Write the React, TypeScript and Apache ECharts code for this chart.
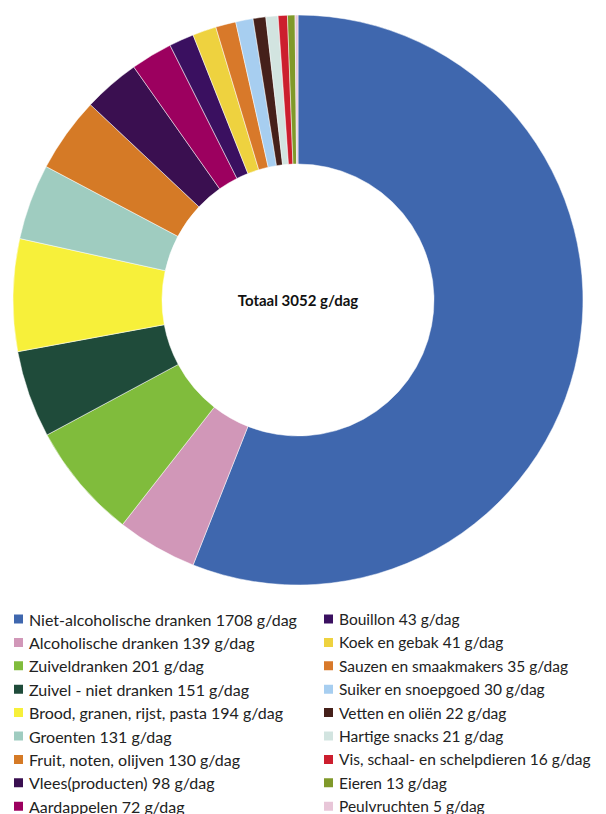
import React, { useEffect, useRef } from "react";
import * as echarts from "echarts";

const categories: string[] = [
  "Niet-alcoholische dranken",
  "Alcoholische dranken",
  "Zuiveldranken",
  "Zuivel - niet dranken",
  "Brood, granen, rijst, pasta",
  "Groenten",
  "Fruit, noten, olijven",
  "Vlees(producten)",
  "Aardappelen",
  "Bouillon",
  "Koek en gebak",
  "Sauzen en smaakmakers",
  "Suiker en snoepgoed",
  "Vetten en oliën",
  "Hartige snacks",
  "Vis, schaal- en schelpdieren",
  "Eieren",
  "Peulvruchten",
];

const values: number[] = [1708, 139, 201, 151, 194, 131, 130, 98, 72, 43, 41, 35, 30, 22, 21, 16, 13, 5];

const colors: string[] = [
  "#3F67AE",
  "#D197B8",
  "#80BC3C",
  "#1F4B3A",
  "#F7F03A",
  "#9FCCC0",
  "#D57A26",
  "#3A0F50",
  "#9C005F",
  "#3A1060",
  "#EED23F",
  "#D8792A",
  "#A7CEF0",
  "#45201A",
  "#D2E4E0",
  "#CC1E2E",
  "#80992A",
  "#E8C6D8",
];

const total = 3052;
const unit = "g/dag";

export default function App() {
  const ref = useRef<HTMLDivElement>(null);

  useEffect(() => {
    document.body.style.margin = "0";
    document.body.style.overflow = "hidden";
    if (!ref.current) return;
    const chart = echarts.init(ref.current, undefined, { renderer: "svg" });
    const valueOf: Record<string, number> = {};
    categories.forEach((c, i) => (valueOf[c] = values[i]));
    const legendBase = {
      orient: "vertical" as const,
      icon: "rect",
      itemWidth: 11,
      itemHeight: 11,
      itemGap: 7.4,
      padding: 0,
      top: 611,
      height: 260,
      selectedMode: false,
      formatter: (name: string) => `${name} ${valueOf[name]} ${unit}`,
    };
    chart.setOption({
      animation: false,
      color: colors,
      legend: [
        {
          ...legendBase,
          left: 12,
          textStyle: { fontFamily: "Lato", fontSize: 16, color: "#222", lineHeight: 16 },
          data: categories.slice(0, 9),
        },
        {
          ...legendBase,
          left: 322,
          textStyle: { fontFamily: "Lato", fontSize: 15.5, color: "#222", lineHeight: 16 },
          data: categories.slice(9),
        },
      ],
      graphic: [
        {
          type: "text",
          x: 298,
          y: 300,
          style: {
            text: `Totaal ${total} ${unit}`,
            textAlign: "center",
            textVerticalAlign: "middle",
            fontFamily: "Lato",
            fontWeight: "bold",
            fontSize: 15,
            fill: "#111",
          },
        },
      ],
      series: [
        {
          type: "pie",
          center: [298, 300],
          radius: [136, 285],
          startAngle: 90,
          clockwise: true,
          label: { show: false },
          labelLine: { show: false },
          emphasis: { disabled: true },
          itemStyle: { borderColor: "#fff", borderWidth: 0.5 },
          data: categories.map((c, i) => ({ name: c, value: values[i] })),
        },
      ],
    });
    return () => chart.dispose();
  }, []);

  return <div ref={ref} style={{ width: 606, height: 814 }} />;
}
